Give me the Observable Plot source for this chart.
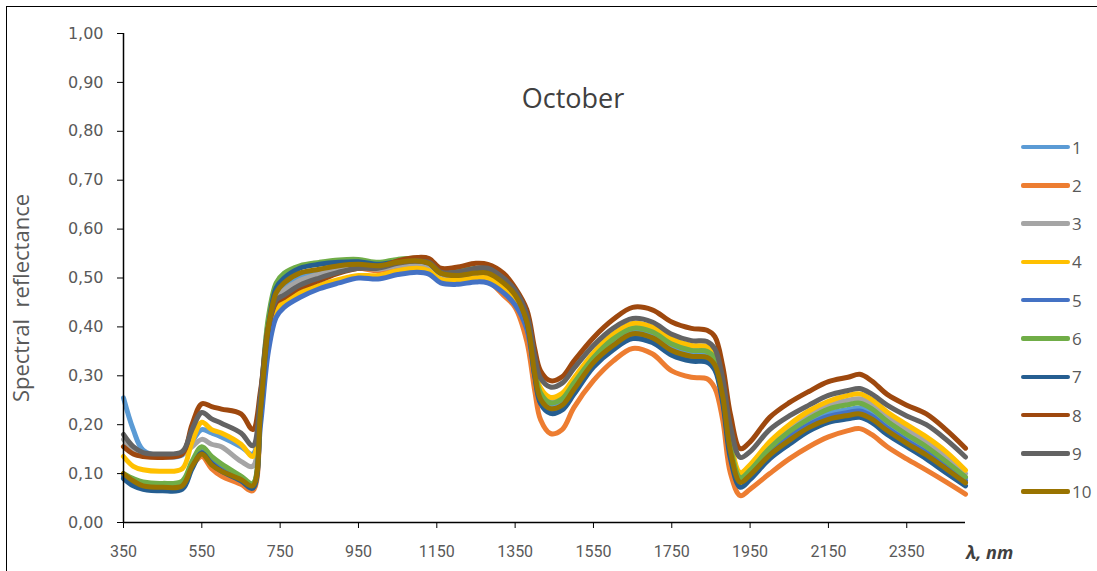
<!DOCTYPE html>
<html><head><meta charset="utf-8">
<script src="https://cdn.jsdelivr.net/npm/d3@7"></script>
<script src="https://cdn.jsdelivr.net/npm/@observablehq/plot@0.6"></script>
<style>
body{margin:0;background:#fff;}
#wrap{position:relative;width:1097px;height:571px;overflow:hidden;background:#fff;}
#frame{position:absolute;left:6px;top:6px;width:1200px;height:700px;border-left:1.5px solid #000;border-top:1.5px solid #000;}
#chart{position:absolute;left:0;top:0;}
#title{position:absolute;left:473px;width:200px;top:79px;text-align:center;font:27px "Open Sans",sans-serif;color:#404040;}
#ytitle{position:absolute;left:20px;top:298px;transform:translate(-50%,-50%) rotate(-90deg);white-space:pre;font:22px "Open Sans",sans-serif;color:#595959;}
#xtitle{position:absolute;left:966px;top:540px;font:italic bold 18px "Open Sans",sans-serif;color:#404040;}
.leg{position:absolute;left:1021px;height:20px;display:flex;align-items:center;font:17px "Open Sans",sans-serif;color:#595959;}
.leg span.l{display:inline-block;width:49px;height:4.5px;border-radius:2px;margin-right:2px;}
</style></head>
<body>
<div id="wrap">
  <div id="frame"></div>
  <div id="chart"></div>
  <div id="title">October</div>
  <div id="ytitle">Spectral  reflectance</div>
  <div id="xtitle">λ, nm</div>
</div>
<script>
const wavelengths = [350,375,400,450,500,525,550,575,600,650,680,700,720,740,760,800,850,900,950,1000,1050,1100,1130,1160,1200,1250,1280,1320,1350,1380,1400,1415,1440,1470,1500,1550,1600,1650,1700,1750,1800,1840,1860,1880,1900,1925,1950,2000,2050,2100,2150,2200,2230,2260,2300,2350,2400,2450,2500];

const s1 = [0.255,0.19,0.148,0.135,0.138,0.165,0.19,0.183,0.175,0.155,0.14,0.26,0.41,0.465,
  0.48,0.50,0.512,0.52,0.525,0.52,0.527,0.53,0.525,0.505,0.503,0.508,0.505,0.485,
  0.46,0.41,0.31,0.26,0.24,0.248,0.28,0.332,0.368,0.39,0.383,0.358,0.345,0.343,0.328,0.265,0.15,
  0.095,0.108,0.15,0.18,0.205,0.223,0.231,0.234,0.223,0.198,0.172,0.148,0.12,0.09];
const s2 = [0.10,0.085,0.078,0.075,0.078,0.115,0.135,0.11,0.095,0.078,0.065,0.22,0.39,0.46,
  0.47,0.49,0.505,0.515,0.52,0.515,0.522,0.525,0.52,0.502,0.5,0.505,0.495,0.465,
  0.44,0.37,0.27,0.21,0.182,0.19,0.235,0.29,0.33,0.356,0.345,0.31,0.297,0.294,0.275,0.21,0.10,
  0.055,0.068,0.1,0.13,0.155,0.175,0.188,0.192,0.18,0.155,0.13,0.107,0.083,0.058];
const s3 = [0.17,0.15,0.14,0.135,0.14,0.155,0.17,0.16,0.155,0.125,0.115,0.25,0.40,0.46,
  0.475,0.495,0.508,0.518,0.522,0.518,0.525,0.528,0.523,0.505,0.502,0.507,0.505,0.485,
  0.46,0.41,0.315,0.27,0.25,0.258,0.29,0.342,0.38,0.40,0.395,0.37,0.357,0.355,0.34,0.275,0.16,
  0.098,0.112,0.158,0.193,0.22,0.24,0.25,0.253,0.243,0.217,0.19,0.165,0.135,0.10];
const s4 = [0.135,0.115,0.108,0.105,0.11,0.165,0.205,0.19,0.183,0.16,0.135,0.24,0.38,0.435,
  0.45,0.47,0.485,0.497,0.505,0.505,0.515,0.52,0.515,0.497,0.495,0.5,0.5,0.48,
  0.455,0.405,0.32,0.275,0.256,0.264,0.295,0.347,0.385,0.407,0.40,0.375,0.362,0.36,0.345,0.28,0.165,
  0.102,0.118,0.165,0.2,0.228,0.248,0.26,0.263,0.252,0.226,0.2,0.175,0.145,0.107];
const s5 = [0.095,0.085,0.08,0.078,0.082,0.12,0.145,0.125,0.11,0.09,0.078,0.20,0.35,0.42,
  0.44,0.46,0.478,0.49,0.50,0.498,0.507,0.512,0.508,0.49,0.487,0.492,0.49,0.47,
  0.445,0.395,0.30,0.247,0.228,0.235,0.267,0.322,0.357,0.38,0.372,0.346,0.335,0.332,0.316,0.252,0.14,
  0.088,0.103,0.145,0.175,0.2,0.217,0.225,0.228,0.218,0.193,0.167,0.143,0.115,0.085];
const s6 = [0.10,0.09,0.083,0.08,0.085,0.125,0.155,0.135,0.12,0.095,0.08,0.25,0.42,0.49,
  0.51,0.525,0.532,0.537,0.538,0.532,0.538,0.54,0.535,0.515,0.515,0.52,0.52,0.50,
  0.475,0.42,0.315,0.265,0.245,0.253,0.285,0.337,0.375,0.397,0.39,0.365,0.352,0.35,0.335,0.27,0.155,
  0.092,0.107,0.152,0.186,0.212,0.232,0.241,0.244,0.233,0.207,0.18,0.155,0.125,0.093];
const s7 = [0.09,0.075,0.068,0.065,0.068,0.11,0.142,0.12,0.105,0.085,0.07,0.23,0.40,0.48,
  0.50,0.52,0.528,0.532,0.533,0.528,0.533,0.535,0.53,0.51,0.51,0.515,0.515,0.495,
  0.47,0.41,0.30,0.243,0.223,0.23,0.262,0.318,0.353,0.376,0.368,0.342,0.33,0.328,0.312,0.245,0.13,
  0.072,0.088,0.13,0.16,0.187,0.205,0.212,0.215,0.205,0.18,0.155,0.13,0.102,0.075];
const s8 = [0.155,0.14,0.135,0.133,0.14,0.2,0.243,0.237,0.232,0.222,0.19,0.27,0.40,0.45,
  0.46,0.48,0.495,0.51,0.52,0.522,0.535,0.542,0.54,0.52,0.522,0.53,0.528,0.51,
  0.48,0.435,0.355,0.31,0.29,0.298,0.33,0.378,0.415,0.44,0.435,0.41,0.397,0.393,0.38,0.32,0.22,
  0.151,0.165,0.215,0.245,0.268,0.288,0.297,0.303,0.29,0.262,0.24,0.222,0.19,0.152];
const s9 = [0.18,0.155,0.143,0.14,0.145,0.19,0.225,0.212,0.203,0.183,0.157,0.26,0.40,0.455,
  0.465,0.485,0.50,0.512,0.52,0.52,0.53,0.535,0.532,0.512,0.512,0.52,0.52,0.50,
  0.475,0.425,0.34,0.295,0.277,0.285,0.315,0.362,0.397,0.417,0.41,0.385,0.372,0.37,0.355,0.295,0.195,
  0.133,0.145,0.19,0.218,0.24,0.26,0.27,0.274,0.263,0.24,0.218,0.2,0.17,0.134];
const s10 = [0.10,0.085,0.075,0.072,0.075,0.115,0.14,0.118,0.105,0.088,0.075,0.23,0.40,0.47,
  0.49,0.51,0.518,0.525,0.528,0.525,0.532,0.535,0.53,0.51,0.505,0.51,0.51,0.49,
  0.465,0.41,0.305,0.252,0.233,0.24,0.272,0.327,0.362,0.386,0.378,0.352,0.34,0.338,0.322,0.258,0.145,
  0.082,0.097,0.138,0.168,0.194,0.211,0.219,0.222,0.212,0.188,0.162,0.138,0.11,0.081];

const seriesNames = ["1","2","3","4","5","6","7","8","9","10"];
const seriesColors = ["#5B9BD5","#ED7D31","#A5A5A5","#FFC000","#4472C4","#70AD47","#255E91","#9E480E","#636363","#997300"];
const seriesValues = [s1,s2,s3,s4,s5,s6,s7,s8,s9,s10];
const xTicks = [350,550,750,950,1150,1350,1550,1750,1950,2150,2350];
const yTicks = [0,0.1,0.2,0.3,0.4,0.5,0.6,0.7,0.8,0.9,1.0];

const data = seriesNames.flatMap((name, i) =>
  wavelengths.map((w, j) => ({name, w, v: seriesValues[i][j]})));

const chart = Plot.plot({
  width: 1097, height: 571,
  marginLeft: 123, marginRight: 132, marginTop: 33, marginBottom: 49,
  style: {background: "transparent", overflow: "visible"},
  x: {domain: [350, 2500]},
  y: {domain: [0, 1]},
  color: {domain: seriesNames, range: seriesColors},
  marks: [
    Plot.line(data, {x: "w", y: "v", z: "name", stroke: "name", strokeWidth: 5, curve: "catmull-rom", strokeLinejoin: "round", strokeLinecap: "round"}),
    Plot.ruleY([0], {stroke: "#000", strokeWidth: 1.5}),
    Plot.ruleX([350], {stroke: "#000", strokeWidth: 1.5}),
    Plot.axisX(xTicks, {tickSize: 6, tickPadding: 17, stroke: "#000", fill: "#595959", fontSize: 16, fontFamily: "Roboto, sans-serif", tickFormat: d => String(d), label: null}),
    Plot.axisY(yTicks, {tickSize: 6, tickPadding: 14, stroke: "#000", fill: "#595959", fontSize: 16, fontFamily: "'DejaVu Sans', sans-serif", tickFormat: d => d.toFixed(2).replace(".", ","), label: null})
  ]
});
document.getElementById("chart").appendChild(chart);

const wrap = document.getElementById("wrap");
seriesNames.forEach((name, i) => {
  const d = document.createElement("div");
  d.className = "leg";
  d.style.top = (137 + i * 38.3) + "px";
  d.innerHTML = `<span class="l" style="background:${seriesColors[i]}"></span>${name}`;
  wrap.appendChild(d);
});
</script>
</body></html>
